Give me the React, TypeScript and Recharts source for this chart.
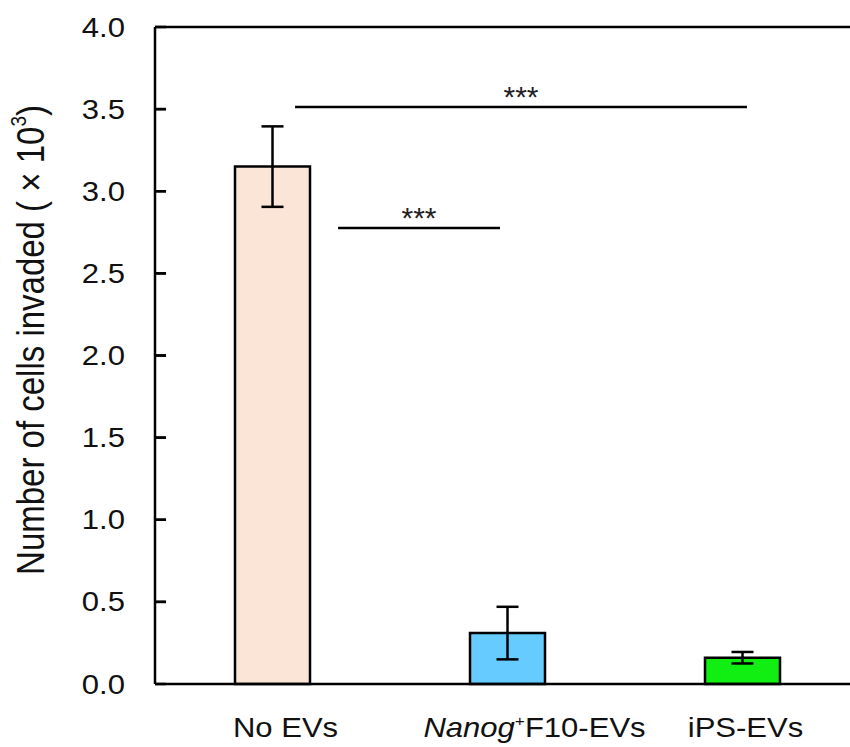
import { Bar, BarChart, Cell, ErrorBar, ReferenceLine, XAxis, YAxis } from "recharts";

const groups = ["No EVs", "Nanog+F10-EVs", "iPS-EVs"];
const means = [3.15, 0.31, 0.16];
const errors = [0.245, 0.16, 0.035];
const barColors = ["#FBE5D6", "#66CCFF", "#11EE11"];
const yTicks = [0, 0.5, 1, 1.5, 2, 2.5, 3, 3.5, 4];

// significance brackets, x in category units (0 = first bar), y in data units
const sigLines = [
  { x1: 0.096, x2: 2.019, y: 3.513, label: "***" },
  { x1: 0.279, x2: 0.968, y: 2.776, label: "***" },
];

const data = groups.map((name, i) => ({ name, pos: i, value: means[i], err: errors[i] }));

const FONT = "'Liberation Sans', Arial, sans-serif";
const STRETCH = 1.15;
const LABEL_GAP = 30;
const X_MIN = -0.5;
// labels in the figure sit a little right of the bar centres
const labelShift: Record<string, number> = { "No EVs": 13, "Nanog+F10-EVs": 27, "iPS-EVs": 3 };

function GroupTick(props: any) {
  const { x, y, payload } = props;
  const cx = Number(x) + (labelShift[payload.value] ?? 0);
  const baseY = Number(y) + 45;
  return (
    <g transform={`translate(${cx},${baseY}) scale(${STRETCH},1)`}>
      {payload.value === "Nanog+F10-EVs" ? (
        <text x={0} y={0} textAnchor="middle" fontSize={27} fontFamily={FONT} fill="#111">
          <tspan fontStyle="italic">Nanog</tspan>
          <tspan fontSize={15} dy={-11}>+</tspan>
          <tspan dy={11}>F10-EVs</tspan>
        </text>
      ) : (
        <text x={0} y={0} textAnchor="middle" fontSize={27} fontFamily={FONT} fill="#111">
          {payload.value}
        </text>
      )}
    </g>
  );
}

// value label plus a short inward tick mark starting at the axis line
function ValueTick(props: any) {
  const { payload } = props;
  const x = Number(props.x);
  const y = Number(props.y);
  return (
    <g>
      <path d={`M${x + LABEL_GAP},${y}h11`} stroke="#000" strokeWidth={2.5} fill="none" />
      <g transform={`translate(${x},${y}) scale(${STRETCH},1)`}>
        <text x={0} y={0} dy="0.355em" textAnchor="end" fontSize={27} fontFamily={FONT} fill="#111">
          {Number(payload.value).toFixed(1)}
        </text>
      </g>
    </g>
  );
}

function YTitle() {
  return (
    <g transform={`translate(31,340) scale(${STRETCH},1) rotate(-90)`}>
      <text
        x={0}
        y={0}
        textAnchor="middle"
        dominantBaseline="central"
        fontSize={33}
        fontFamily={FONT}
        fill="#111"
      >
        Number  of cells invaded ( × 10
        <tspan fontSize={19} dy={-12}>3</tspan>
        <tspan dy={12}>)</tspan>
      </text>
    </g>
  );
}

export default function App() {
  return (
    <div
      style={{
        position: "absolute",
        left: 0,
        top: 0,
        width: 850,
        height: 747,
        overflow: "hidden",
        background: "#fff",
      }}
    >
      <BarChart
        width={880}
        height={747}
        data={data}
        margin={{ top: 27, right: 20, bottom: 0, left: 0 }}
        barSize={75}
      >
        <XAxis
          dataKey="name"
          height={63}
          axisLine={{ stroke: "#000", strokeWidth: 2.5 }}
          tickLine={false}
          tick={<GroupTick />}
          interval={0}
        />
        <XAxis
          xAxisId="sig"
          dataKey="pos"
          type="number"
          domain={[X_MIN, 2.5]}
          allowDataOverflow
          hide
        />
        <YAxis
          width={155}
          domain={[0, 4]}
          ticks={yTicks}
          axisLine={{ stroke: "#000", strokeWidth: 2.5 }}
          tickLine={false}
          tickSize={0}
          tickMargin={LABEL_GAP}
          tick={<ValueTick />}
          label={<YTitle />}
        />
        <ReferenceLine y={4} stroke="#000" strokeWidth={2.5} />
        {yTicks.slice(1, -1).map((t, i) => (
          <ReferenceLine
            key={`tick-${i}`}
            xAxisId="sig"
            ifOverflow="visible"
            segment={[
              { x: X_MIN + 0.004, y: t },
              { x: X_MIN + 0.047, y: t },
            ]}
            stroke="#000"
            strokeWidth={2.5}
            label={{ value: "", position: "top" }}
          />
        ))}
        <Bar dataKey="value" stroke="#000" strokeWidth={2.5} isAnimationActive={false}>
          {data.map((d, i) => (
            <Cell key={d.name} fill={barColors[i]} />
          ))}
          <ErrorBar dataKey="err" width={11} stroke="#000" strokeWidth={2.5} />
        </Bar>
        {sigLines.map((s, i) => (
          <ReferenceLine
            key={i}
            xAxisId="sig"
            segment={[
              { x: s.x1, y: s.y },
              { x: s.x2, y: s.y },
            ]}
            stroke="#000"
            strokeWidth={2.5}
            label={{ value: s.label, position: "top", fontSize: 30, fill: "#222", fontFamily: FONT, offset: 0 }}
          />
        ))}
      </BarChart>
    </div>
  );
}
